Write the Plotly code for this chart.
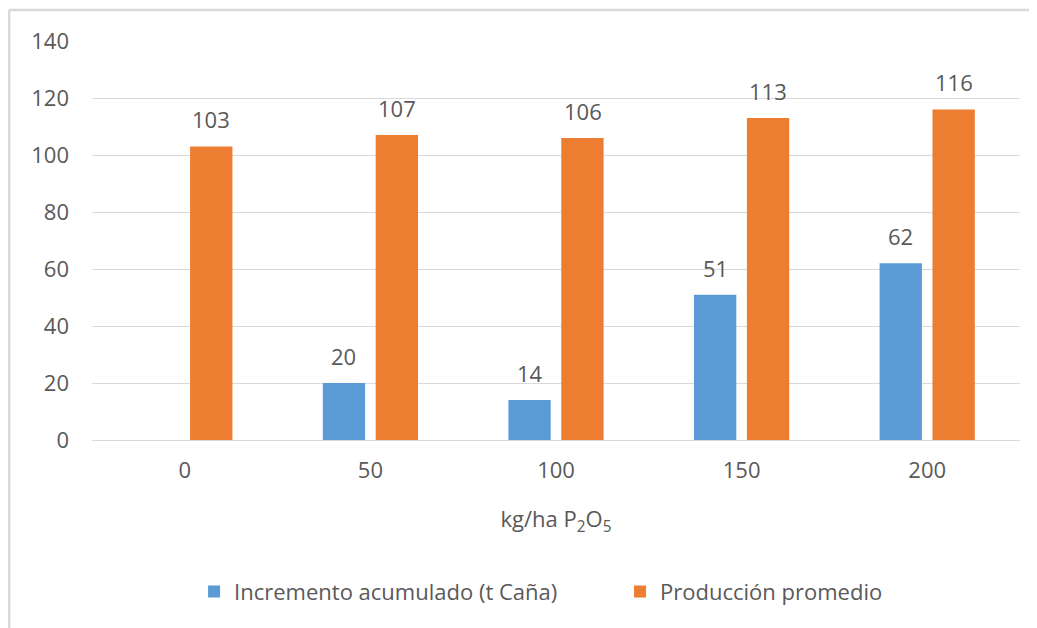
import plotly.graph_objects as go

categories = ["0", "50", "100", "150", "200"]
incremento = [0, 20, 14, 51, 62]
produccion = [103, 107, 106, 113, 116]
y_ticks = [0, 20, 40, 60, 80, 100, 120, 140]

name_inc = "Incremento acumulado (t Caña)"
name_prod = "Producción promedio"
blue = "#5b9bd5"
orange = "#ed7d31"
txt = "#595959"
font_family = "Open Sans, Noto Sans, sans-serif"

fig = go.Figure()
fig.add_trace(go.Bar(x=categories, y=incremento, name=name_inc, legend="legend",
                     showlegend=True,
                     marker=dict(color=blue, line=dict(width=0))))
fig.add_trace(go.Bar(x=categories, y=produccion, name=name_prod, legend="legend2",
                     showlegend=True,
                     marker=dict(color=orange, line=dict(width=0))))

# data labels (skip zero values); x given as category index
for i, c in enumerate(categories):
    for vals, shift in ((incremento, -26.5), (produccion, 26.5)):
        v = vals[i]
        if v:
            fig.add_annotation(x=i, y=v, text=str(v), showarrow=False,
                               xshift=shift, yshift=27, yanchor="middle",
                               font=dict(size=22, color=txt, family=font_family))

legend_common = dict(orientation="h", xanchor="left", y=-0.38, yanchor="middle",
                     font=dict(size=22, color=txt), itemwidth=30,
                     bgcolor="rgba(0,0,0,0)", visible=True)

fig.update_layout(
    width=1029, height=620,
    margin=dict(l=84, r=17, t=33, b=188),
    paper_bgcolor="white", plot_bgcolor="white",
    showlegend=True,
    barmode="group", bargap=0.43, bargroupgap=0.2,
    font=dict(family=font_family, size=22, color=txt),
    xaxis=dict(type="category", range=[-0.5, len(categories) - 0.5],
               title=dict(text="kg/ha P<sub>2</sub>O<sub>5</sub>", standoff=28,
                          font=dict(size=22, color=txt)),
               showgrid=False, showline=True, linecolor="#d9d9d9", linewidth=1,
               ticks="", ticklabelstandoff=11, tickfont=dict(size=22, color=txt)),
    yaxis=dict(range=[0, 140], tickvals=y_ticks, showgrid=True, gridcolor="#d9d9d9",
               gridwidth=1, zeroline=False, showline=False, ticks="",
               ticklabelstandoff=22, tickfont=dict(size=22, color=txt)),
    legend=dict(x=0.110, **legend_common),
    legend2=dict(x=0.569, **legend_common),
    shapes=[
        dict(type="line", xref="paper", yref="paper", x0=-0.0894, x1=1.05, y0=1.0777, y1=1.0777,
             line=dict(color="#d9d9d9", width=2.5)),
        dict(type="line", xref="paper", yref="paper", x0=-0.0894, x1=-0.0894, y0=1.0777, y1=-0.6,
             line=dict(color="#d9d9d9", width=2.5)),
    ],
)

fig.write_html("out.html")
